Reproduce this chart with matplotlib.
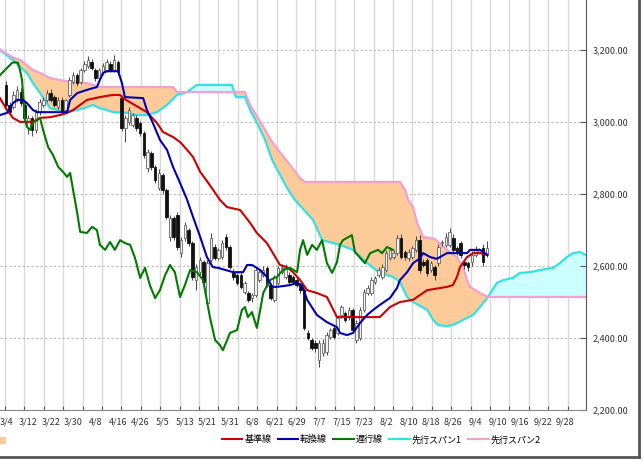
import numpy as np
import matplotlib.pyplot as plt
from matplotlib.lines import Line2D
from matplotlib.patches import Rectangle

plt.rcParams['font.family'] = ['Noto Sans CJK JP', 'DejaVu Sans']

# candles: open, high, low, close (index 0 = 3/4)
opens = [3103, 3047, 3040, 3061, 3083, 3047, 2983, 3010, 2978, 3028, 3047, 3061, 3080, 3069, 3040, 3061,
         3033, 3075, 3111, 3130, 3111, 3144, 3155, 3166, 3144, 3122, 3139, 3144, 3161, 3144, 3166, 3066,
         2983, 2999, 2992, 3010, 2997, 2969, 2872, 2913, 2874, 2816, 2852, 2811, 2680, 2733, 2741, 2635,
         2677, 2699, 2663, 2560, 2582, 2610, 2496, 2616, 2652, 2621, 2624, 2680, 2652, 2580, 2574, 2574,
         2527, 2524, 2510, 2518, 2560, 2574, 2593, 2546, 2505, 2552, 2582, 2568, 2574, 2568, 2560, 2546,
         2532, 2413, 2393, 2385, 2338, 2357, 2360, 2402, 2427, 2413, 2463, 2468, 2457, 2477, 2393, 2399,
         2477, 2524, 2524, 2555, 2574, 2568, 2588, 2621, 2624, 2635, 2677, 2638, 2621, 2624, 2644, 2671,
         2610, 2616, 2588, 2596, 2607, 2663, 2658, 2658, 2677, 2649, 2663, 2610, 2607, 2610, 2630, 2638,
         2649, 2630]
highs = [3115, 3055, 3085, 3100, 3095, 3055, 3020, 3015, 3035, 3065, 3070, 3090, 3092, 3075, 3068, 3070,
         3065, 3125, 3138, 3135, 3150, 3170, 3182, 3175, 3150, 3150, 3165, 3175, 3170, 3185, 3172, 3075,
         3020, 3040, 3025, 3020, 3003, 2975, 2925, 2920, 2880, 2870, 2858, 2815, 2740, 2738, 2748, 2680,
         2722, 2705, 2670, 2605, 2625, 2615, 2615, 2690, 2660, 2650, 2672, 2688, 2658, 2590, 2580, 2582,
         2558, 2530, 2525, 2595, 2590, 2598, 2600, 2552, 2575, 2600, 2605, 2604, 2582, 2575, 2566, 2552,
         2538, 2420, 2398, 2392, 2392, 2395, 2415, 2428, 2433, 2462, 2492, 2475, 2485, 2482, 2448, 2485,
         2535, 2545, 2568, 2572, 2595, 2605, 2645, 2652, 2645, 2685, 2688, 2645, 2646, 2656, 2682, 2685,
         2618, 2622, 2613, 2602, 2660, 2672, 2690, 2705, 2688, 2655, 2670, 2615, 2612, 2640, 2655, 2650,
         2660, 2668]
lows = [3040, 3020, 3035, 3055, 3045, 3000, 2965, 2960, 2970, 3020, 3040, 3055, 3055, 3040, 3035, 3022,
        3025, 3070, 3105, 3100, 3105, 3140, 3150, 3145, 3115, 3115, 3130, 3138, 3138, 3140, 3130, 2975,
        2945, 2990, 2985, 2975, 2960, 2900, 2860, 2865, 2830, 2810, 2800, 2730, 2670, 2672, 2645, 2625,
        2670, 2655, 2560, 2532, 2575, 2548, 2490, 2610, 2615, 2615, 2618, 2645, 2590, 2560, 2545, 2535,
        2520, 2498, 2500, 2512, 2555, 2568, 2540, 2505, 2500, 2545, 2578, 2562, 2550, 2548, 2540, 2525,
        2420, 2392, 2365, 2360, 2318, 2350, 2352, 2395, 2395, 2408, 2455, 2442, 2450, 2415, 2385, 2392,
        2470, 2518, 2518, 2550, 2568, 2562, 2582, 2615, 2618, 2630, 2618, 2615, 2612, 2618, 2638, 2580,
        2595, 2572, 2582, 2560, 2600, 2655, 2652, 2652, 2638, 2630, 2622, 2590, 2585, 2600, 2625, 2632,
        2600, 2625]
closes = [3047, 3028, 3075, 3089, 3052, 3010, 3010, 2978, 3028, 3055, 3061, 3080, 3061, 3047, 3061, 3028,
          3061, 3117, 3130, 3108, 3144, 3161, 3172, 3150, 3122, 3144, 3155, 3166, 3144, 3172, 3139, 2983,
          3010, 3033, 3019, 2983, 2969, 2908, 2916, 2874, 2839, 2858, 2811, 2736, 2733, 2680, 2652, 2671,
          2713, 2663, 2568, 2596, 2616, 2555, 2607, 2677, 2621, 2644, 2663, 2652, 2596, 2568, 2552, 2541,
          2552, 2505, 2518, 2588, 2582, 2588, 2546, 2510, 2568, 2593, 2593, 2596, 2555, 2555, 2546, 2532,
          2427, 2399, 2371, 2371, 2385, 2385, 2407, 2421, 2402, 2455, 2485, 2449, 2477, 2421, 2441, 2477,
          2527, 2538, 2560, 2566, 2588, 2596, 2635, 2644, 2635, 2677, 2624, 2624, 2638, 2649, 2671, 2588,
          2602, 2580, 2607, 2574, 2652, 2666, 2680, 2694, 2644, 2638, 2630, 2602, 2596, 2630, 2644, 2644,
          2610, 2649]

# tenkan-sen (conversion line)
tenkan_x = [-1.6, 0.27, 1.88, 2.95, 4.56, 5.63, 7.24, 8.32, 16.4, 17.2, 19.1, 21.7, 24.4, 25.2, 26.0, 27.1,
            30.1, 31.1, 31.9, 36.8, 37.8, 39.4, 41.3, 43.2, 44.8, 46.7, 48.6, 50.2, 52.1, 53.9, 55.5, 56.9,
            60.9, 63.6, 64.7, 66.0, 68.2, 70.0, 71.4, 72.7, 76.2, 78.1, 79.4, 80.8, 83.4, 86.1, 88.8, 89.6,
            91.5, 93.1, 95.0, 96.9, 98.5, 100.3, 103.0, 104.9, 105.7, 107.6, 109.2, 111.1, 111.9, 113.8,
            115.6, 118.3, 123.7, 124.5, 127.2, 129.1]
tenkan_v = [3019, 3025, 3052, 3061, 3061, 3052, 3033, 3027, 3027, 3061, 3080, 3089, 3097, 3117, 3136, 3141,
            3141, 3108, 3069, 3066, 3033, 2997, 2950, 2922, 2875, 2830, 2783, 2735, 2680, 2624, 2596, 2594,
            2582, 2582, 2602, 2602, 2588, 2569, 2541, 2541, 2546, 2552, 2546, 2505, 2463, 2443, 2429, 2413,
            2407, 2413, 2441, 2463, 2477, 2491, 2510, 2538, 2560, 2582, 2607, 2621, 2635, 2624,
            2619, 2635, 2635, 2644, 2644, 2630]

# kijun-sen (base line)
kijun_x = [-1.6, 0.27, 1.88, 3.76, 7.24, 9.12, 11.8, 14.5, 16.4, 18.0, 21.7, 25.2, 28.7, 30.6, 31.4, 37.8,
           40.5, 42.1, 44.8, 46.7, 48.6, 50.2, 52.1, 54.7, 57.4, 59.3, 62.8, 65.5, 67.3, 70.0, 72.7, 73.5,
           75.4, 77.0, 78.9, 80.8, 83.4, 86.1, 88.8, 100.3, 103.0, 105.7, 109.2, 113.0, 118.3, 119.9,
           121.0, 121.8, 123.7, 125.3, 127.2, 129.1]
kijun_v = [3066, 3033, 3011, 3000, 3000, 3011, 3013, 3019, 3025, 3033, 3061, 3069, 3075, 3075, 3066, 3027,
           2997, 2972, 2958, 2944, 2922, 2902, 2861, 2824, 2783, 2763, 2755, 2719, 2691, 2663, 2616, 2602,
           2596, 2582, 2560, 2532, 2524, 2513, 2457, 2457, 2485, 2499, 2505, 2532, 2541, 2546,
           2569, 2596, 2624, 2635, 2635, 2630]

# chikou span (lagging line)
chikou_x = [-1.6, 0.27, 1.61, 2.41, 3.22, 3.76, 4.29, 4.56, 5.10, 5.63, 6.44, 7.24, 8.32, 9.12, 9.93, 11.3,
            12.6, 14.0, 15.3, 16.4, 17.2, 18.0, 19.1, 19.9, 21.7, 23.1, 24.4, 25.2, 26.6, 27.9, 29.2, 30.6,
            31.9, 33.3, 34.6, 36.0, 37.3, 38.6, 40.0, 41.3, 42.7, 44.0, 45.3, 46.7, 48.0, 49.4, 51.2, 52.9,
            54.7, 56.1, 57.4, 58.2, 60.1, 62.0, 63.3, 64.1, 64.9, 66.0, 67.3, 68.2, 69.0, 70.8, 72.7, 74.3,
            76.2, 78.1, 78.9, 79.7, 80.8, 82.1, 83.4, 84.8, 86.1, 87.5, 88.8, 89.6, 90.4, 92.8, 93.6, 96.3,
            97.7, 99.8, 100.9, 102.2, 103.8]
chikou_v = [3130, 3150, 3164, 3166, 3164, 3144, 3117, 3080, 3005, 2986, 2978, 2997, 3005, 3011, 2978, 2930,
            2908, 2875, 2861, 2847, 2858, 2811, 2747, 2694, 2691, 2708, 2699, 2658, 2644, 2666, 2644, 2671,
            2663, 2658, 2622, 2566, 2594, 2546, 2510, 2532, 2574, 2602, 2582, 2513, 2546, 2588, 2582, 2560,
            2457, 2393, 2379, 2365, 2413, 2421, 2477, 2485, 2457, 2471, 2427, 2477, 2524, 2560, 2569, 2588,
            2594, 2582, 2644, 2671, 2630, 2658, 2644, 2671, 2607, 2580, 2610, 2658, 2671, 2685, 2638, 2607,
            2635, 2644, 2635, 2652, 2644]

# senkou span A (leading span 1)
spanA_x = [-1.6, 0.27, 1.88, 3.76, 5.63, 7.24, 9.12, 11.0, 11.8, 13.7, 16.4, 19.1, 21.7, 23.3, 25.2, 27.1,
           28.7, 32.5, 35.1, 37.8, 40.5, 43.2, 45.9, 48.6, 51.2, 60.6, 61.7, 64.1, 65.5, 67.6, 69.5, 71.4,
           73.5, 75.7, 77.5, 82.4, 84.8, 89.6, 93.1, 96.9, 100.3, 103.8, 105.7, 107.6, 109.2, 113.0, 114.6,
           115.9, 118.3, 119.9, 122.6, 125.3, 127.2, 129.3, 131.7, 133.4, 136.0, 137.9, 140.6, 143.3, 146.8,
           148.6, 150.5, 152.1, 154.0, 155.6]
spanA_v = [3199, 3185, 3172, 3153, 3136, 3108, 3080, 3052, 3038, 3033, 3027, 3033, 3041, 3047, 3038, 3033,
           3027, 3025, 3019, 3019, 3027, 3047, 3075, 3083, 3103, 3103, 3069, 3069, 3033, 2992, 2950, 2894,
           2853, 2811, 2783, 2727, 2671, 2658, 2644, 2607, 2580, 2569, 2555, 2513, 2499, 2477, 2449,
           2435, 2432, 2435, 2449, 2463, 2485, 2513, 2552, 2560, 2566, 2580, 2582, 2588, 2594,
           2607, 2624, 2635, 2638, 2630]

# senkou span B (leading span 2)
spanB_x = [-1.6, 1.61, 3.76, 5.63, 7.24, 9.12, 11.8, 14.5, 18.0, 21.7, 25.2, 44.8, 45.9, 64.1, 65.5, 67.6,
           69.5, 71.4, 73.5, 76.2, 78.9, 80.2, 105.7, 107.1, 107.9, 109.2, 110.3, 111.9, 115.1, 118.3, 121.0,
           122.6, 123.7, 124.5, 127.2, 129.3, 155.6]
spanB_v = [3202, 3180, 3172, 3158, 3144, 3136, 3122, 3116, 3111, 3108, 3097, 3097, 3083, 3083, 3047, 3011,
           2978, 2944, 2916, 2880, 2844, 2833, 2833, 2811, 2783, 2763, 2719, 2680, 2674, 2644, 2624,
           2596, 2560, 2541, 2524, 2513, 2513]

date_labels = ['3/4', '3/12', '3/22', '3/30', '4/8', '4/16', '4/26', '5/5', '5/13', '5/21', '5/31', '6/8',
               '6/21', '6/29', '7/7', '7/15', '7/23', '8/2', '8/10', '8/18', '8/26', '9/4', '9/10', '9/16',
               '9/22', '9/28']
label_step = 6
y_ticks = [2200, 2400, 2600, 2800, 3000, 3200]

fig = plt.figure(figsize=(6.44, 4.61), dpi=100)
ax = fig.add_axes([0.0, 0.1117, 0.9099, 0.8883])
ax.set_xlim(-1.61, 155.6)
ax.set_ylim(2200, 3339)

# grid
for gx in np.arange(-0.27, 152, 5.205):
    ax.axvline(gx, color='#d9d9d9', lw=1.0, zorder=0)
for yv in y_ticks[1:]:
    ax.axhline(yv, color='#b8b8b8', lw=0.8, ls=(0, (2, 2)), zorder=0)

# cloud fill
fx = np.linspace(-1.6, 155.6, 2000)
fa = np.interp(fx, spanA_x, spanA_v)
fb = np.interp(fx, spanB_x, spanB_v)
ax.fill_between(fx, fa, fb, where=fb >= fa, color='#fccb99', lw=0, interpolate=True, zorder=1)
ax.fill_between(fx, fa, fb, where=fa > fb, color='#ccffff', lw=0, interpolate=True, zorder=1)
l_a, = ax.plot(spanA_x, spanA_v, color='#33e0e6', lw=1.6, zorder=2)
l_b, = ax.plot(spanB_x, spanB_v, color='#f0a0d2', lw=1.6, zorder=2)

# candles
idx = np.arange(len(opens))
o = np.array(opens); c = np.array(closes); h = np.array(highs); lo = np.array(lows)
up = c >= o
ax.vlines(idx, lo, h, color='#444444', lw=0.7, zorder=3)
ax.bar(idx[up], (c - o)[up], bottom=o[up], width=0.7, color='#f2f2f2', edgecolor='#666666', lw=0.6, zorder=4)
ax.bar(idx[~up], (o - c)[~up], bottom=c[~up], width=0.7, color='#111111', edgecolor='#111111', lw=0.6, zorder=4)

l_k, = ax.plot(kijun_x, kijun_v, color='#cc0000', lw=1.5, zorder=5)
l_t, = ax.plot(tenkan_x, tenkan_v, color='#0000b0', lw=1.5, zorder=6)
l_c, = ax.plot(chikou_x, chikou_v, color='#007a00', lw=1.5, zorder=5)

# axes styling
for s in ['left', 'top']:
    ax.spines[s].set_visible(False)
ax.spines['bottom'].set_color('#888888')
ax.spines['right'].set_color('#555555')
ax.yaxis.tick_right()
ax.set_yticks(y_ticks)
ax.set_yticklabels([f'{v:,.2f}' for v in y_ticks])
ax.tick_params(axis='y', direction='in', length=4, width=0.8, color='#555555', labelsize=6.5,
               labelcolor='#333333', pad=5)
ax.set_xticks(np.arange(len(date_labels)) * label_step)
ax.set_xticklabels(date_labels)
ax.tick_params(axis='x', which='major', length=0, labelsize=6.5, labelcolor='#333333', pad=6)
ax.set_xticks(np.arange(-0.27, 152, 5.205), minor=True)
ax.tick_params(axis='x', which='minor', direction='in', length=3, width=0.8, color='#555555')

# legend
handles = [l_k, l_t, l_c, l_a, l_b]
labels = ['基準線', '転換線', '遅行線', '先行スパン1', '先行スパン2']
fig.legend(handles, labels, loc='center', bbox_to_anchor=(0.592, 0.046), ncol=5, frameon=False,
           fontsize=6.5, handlelength=2.3, handletextpad=0.2, columnspacing=0.7)
fig.patches.append(Rectangle((0.0, 0.040), 0.008, 0.013, transform=fig.transFigure, color='#fccb99'))

# frame shadow
fig.add_artist(Line2D([0.9915, 0.9915], [0.008, 1.0], transform=fig.transFigure, color='#555555', lw=2))
fig.add_artist(Line2D([0.0, 0.9915], [0.008, 0.008], transform=fig.transFigure, color='#555555', lw=2))

fig.savefig('out.png', dpi=100)
